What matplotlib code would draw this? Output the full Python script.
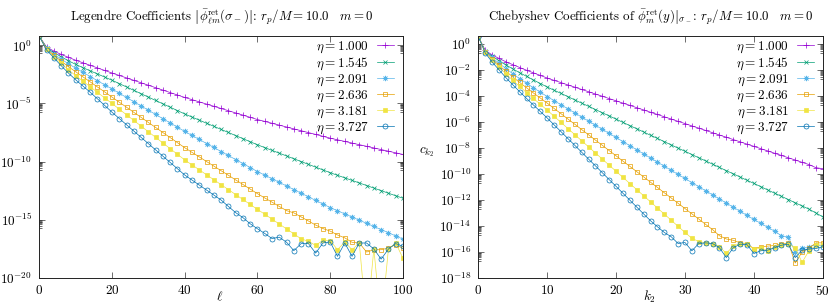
import numpy as np
import matplotlib
matplotlib.use("Agg")
import matplotlib.pyplot as plt
from matplotlib.ticker import FixedLocator, LogFormatterSciNotation, NullFormatter

plt.rcParams['font.family'] = ['cmr10', 'DejaVu Serif']
plt.rcParams['mathtext.fontset'] = 'cm'
plt.rcParams['axes.unicode_minus'] = False
plt.rcParams['axes.formatter.use_mathtext'] = True

# ---------------- data ----------------
etas = ["1.000", "1.545", "2.091", "2.636", "3.181", "3.727"]
colors = ["#9400d3", "#009e73", "#56b4e9", "#e69f00", "#f0e442", "#0072b2"]

ell = list(range(0, 101, 2))
k2 = list(range(0, 51))

# log10 of |phi_lm| (Legendre), ell = 0,2,...,100
leg_eta1 = [0.78, -0.15, -0.49, -0.78, -1.03, -1.28, -1.5, -1.72, -1.94, -2.16, -2.38,
            -2.59, -2.80, -3.01, -3.22, -3.43, -3.64, -3.85, -4.06, -4.27, -4.48,
            -4.67, -4.86, -5.05, -5.24, -5.43, -5.62, -5.81, -6.0, -6.19, -6.38,
            -6.54, -6.70, -6.86, -7.02, -7.18, -7.34, -7.5, -7.66, -7.82, -7.98,
            -8.12, -8.26, -8.40, -8.54, -8.68, -8.82, -8.96, -9.10, -9.24, -9.38]
leg_eta2 = [0.78, -0.2, -0.62, -0.98, -1.32, -1.64, -1.92, -2.19, -2.46, -2.73, -3.0,
            -3.29, -3.58, -3.87, -4.16, -4.45, -4.74, -5.03, -5.32, -5.61, -5.9,
            -6.17, -6.43, -6.70, -6.96, -7.23, -7.49, -7.76, -8.02, -8.29, -8.55,
            -8.79, -9.03, -9.27, -9.51, -9.75, -9.99, -10.23, -10.47, -10.71, -10.95,
            -11.17, -11.39, -11.61, -11.83, -12.05, -12.27, -12.49, -12.71, -12.93, -13.14]
leg_eta3 = [0.78, -0.25, -0.75, -1.18, -1.58, -1.96, -2.32, -2.68, -3.04, -3.40, -3.75,
            -4.12, -4.48, -4.85, -5.21, -5.58, -5.94, -6.31, -6.67, -7.04, -7.4,
            -7.75, -8.09, -8.44, -8.78, -9.13, -9.47, -9.82, -10.16, -10.51, -10.85,
            -11.16, -11.47, -11.78, -12.09, -12.4, -12.71, -13.02, -13.33, -13.64, -13.95,
            -14.22, -14.49, -14.76, -15.03, -15.30, -15.57, -15.84, -16.11, -16.38, -16.66]
leg_eta4 = [0.78, -0.3, -0.85, -1.35, -1.83, -2.27, -2.71, -3.14, -3.58, -4.01, -4.45,
            -4.89, -5.32, -5.76, -6.19, -6.63, -7.06, -7.50, -7.93, -8.37, -8.8,
            -9.2, -9.59, -9.99, -10.38, -10.78, -11.17, -11.57, -11.96, -12.36, -12.75,
            -13.12, -13.48, -13.85, -14.21, -14.4, -14.75, -15.1, -15.45, -15.75, -15.97,
            -16.3, -16.55, -16.93, -16.99, -17.77, -17.57, -17.57, -17.42, -17.13, -17.45]
leg_eta5 = [0.78, -0.35, -0.98, -1.55, -2.1, -2.6, -3.08, -3.56, -4.04, -4.52, -5.0,
            -5.49, -5.97, -6.46, -6.94, -7.43, -7.91, -8.40, -8.88, -9.37, -9.85,
            -10.28, -10.7, -11.13, -11.55, -11.98, -12.4, -12.83, -13.25, -13.68, -14.1,
            -14.52, -14.94, -15.36, -15.78, -16.2, -16.64, -16.84, -17.2, -16.75, -16.78,
            -17.57, -16.9, -17.57, -16.99, -24.0, -17.5, -24.0, -17.5, -17.0, -18.3]
leg_eta6 = [0.78, -0.4, -1.07, -1.74, -2.38, -2.96, -3.5, -4.03, -4.6, -5.17, -5.75,
            -6.29, -6.83, -7.37, -7.91, -8.45, -8.99, -9.53, -10.07, -10.61, -11.15,
            -11.58, -12.01, -12.44, -12.87, -13.3, -13.85, -14.38, -14.81, -15.34, -15.77,
            -16.17, -16.61, -16.49, -16.93, -17.65, -17.04, -17.04, -17.86, -16.99, -16.90,
            -18.14, -16.99, -18.14, -16.99, -16.99, -17.51, -18.38, -17.51, -17.04, -17.28]

# log10 of Chebyshev coefficients c_k2, k2 = 0..50
cheb_eta1 = [0.56, -0.5, -0.85, -1.12, -1.38, -1.6, -1.82, -2.03, -2.23, -2.43, -2.63,
             -2.81, -2.98, -3.16, -3.33, -3.51, -3.68, -3.86, -4.03, -4.21, -4.38,
             -4.56, -4.73, -4.91, -5.08, -5.26, -5.43, -5.61, -5.78, -5.96, -6.13,
             -6.31, -6.48, -6.66, -6.83, -7.01, -7.18, -7.36, -7.53, -7.71, -7.88,
             -8.06, -8.23, -8.41, -8.58, -8.76, -8.93, -9.11, -9.28, -9.52, -9.6]
cheb_eta2 = [0.56, -0.55, -0.95, -1.3, -1.62, -1.93, -2.22, -2.5, -2.78, -3.05, -3.32,
             -3.57, -3.81, -4.06, -4.31, -4.56, -4.80, -5.05, -5.30, -5.54, -5.79,
             -6.04, -6.29, -6.53, -6.78, -7.03, -7.27, -7.52, -7.77, -8.02, -8.26,
             -8.51, -8.76, -9.00, -9.25, -9.50, -9.75, -9.99, -10.24, -10.49, -10.73,
             -10.98, -11.23, -11.48, -11.72, -11.97, -12.22, -12.46, -12.71, -13.0, -13.3]
cheb_eta3 = [0.56, -0.6, -1.05, -1.5, -1.9, -2.3, -2.68, -3.03, -3.38, -3.72, -4.05,
             -4.37, -4.68, -5.0, -5.31, -5.63, -5.94, -6.26, -6.57, -6.89, -7.2,
             -7.52, -7.83, -8.15, -8.46, -8.78, -9.09, -9.41, -9.72, -10.04, -10.35,
             -10.67, -10.98, -11.30, -11.61, -11.93, -12.24, -12.56, -12.87, -13.19, -13.5,
             -13.8, -14.1, -14.4, -14.75, -14.85, -16.0, -15.7, -15.6, -15.45, -15.5]
cheb_eta4 = [0.56, -0.62, -1.15, -1.65, -2.1, -2.55, -2.97, -3.38, -3.78, -4.17, -4.56,
             -4.97, -5.37, -5.78, -6.18, -6.59, -6.99, -7.40, -7.80, -8.21, -8.61,
             -9.02, -9.42, -9.83, -10.23, -10.64, -11.04, -11.45, -11.85, -12.26, -12.66,
             -13.07, -13.47, -13.88, -14.28, -14.75, -15.0, -15.1, -15.3, -15.35, -15.75,
             -15.6, -15.55, -15.5, -15.4, -15.3, -16.85, -16.0, -15.7, -15.3, -15.3]
cheb_eta5 = [0.56, -0.65, -1.25, -1.8, -2.3, -2.8, -3.28, -3.75, -4.2, -4.65, -5.1,
             -5.57, -6.04, -6.51, -6.98, -7.45, -7.92, -8.39, -8.86, -9.33, -9.8,
             -10.27, -10.74, -11.21, -11.68, -12.15, -12.62, -13.09, -13.56, -14.03, -14.5,
             -14.95, -15.2, -15.3, -15.35, -15.6, -16.1, -15.55, -15.35, -15.4, -15.8,
             -15.7, -15.9, -15.6, -15.5, -15.35, -15.7, -16.8, -15.9, -15.5, -15.45]
cheb_eta6 = [0.56, -0.7, -1.4, -2.0, -2.6, -3.15, -3.68, -4.2, -4.7, -5.2, -5.7,
             -6.23, -6.75, -7.28, -7.8, -8.33, -8.86, -9.38, -9.91, -10.44, -10.96,
             -11.49, -12.02, -12.55, -13.08, -13.6, -14.06, -14.5, -14.83, -15.35, -15.27,
             -15.91, -15.35, -15.30, -15.35, -15.68, -16.43, -15.68, -15.40, -15.43, -16.12,
             -15.91, -15.86, -15.68, -15.48, -15.40, -16.43, -15.86, -15.78, -15.73, -15.60]

leg_series = [leg_eta1, leg_eta2, leg_eta3, leg_eta4, leg_eta5, leg_eta6]
cheb_series = [cheb_eta1, cheb_eta2, cheb_eta3, cheb_eta4, cheb_eta5, cheb_eta6]

# ---------------- styles ----------------
markers = ["+", "x", (8, 2, 0), "s", "s", "o"]
fills = ["full", "full", "full", "none", "full", "none"]
msizes = [3.8, 3.0, 3.8, 3.2, 3.2, 3.6]

fig = plt.figure(figsize=(8.3, 3.06), dpi=100)
axL = fig.add_axes([0.0473, 0.0915, 0.4382, 0.7908])
axR = fig.add_axes([0.5763, 0.0915, 0.4150, 0.7908])


def draw(ax, x, series):
    for s, c, m, f, ms, e in zip(series, colors, markers, fills, msizes, etas):
        ax.plot(x, 10.0 ** np.array(s), color=c, lw=0.5, marker=m, ms=ms,
                fillstyle=f, mew=0.5, label=r"$\eta = %s$" % e)


draw(axL, ell, leg_series)
draw(axR, k2, cheb_series)

axL.set_yscale("log")
axR.set_yscale("log")
axL.set_xlim(0, 100)
axR.set_xlim(0, 50)
axL.set_ylim(1e-20, 10 ** 0.8)
axR.set_ylim(1e-18, 10 ** 0.6)

axL.xaxis.set_major_locator(FixedLocator([0, 20, 40, 60, 80, 100]))
axR.xaxis.set_major_locator(FixedLocator([0, 10, 20, 30, 40, 50]))

majL = [10.0 ** n for n in range(0, -21, -5)]
majR = [10.0 ** n for n in range(0, -19, -2)]
axL.yaxis.set_major_locator(FixedLocator(majL))
axR.yaxis.set_major_locator(FixedLocator(majR))
axL.yaxis.set_minor_locator(FixedLocator([k * m / 10 for m in majL for k in range(2, 10)]))
axR.yaxis.set_minor_locator(FixedLocator([k * m / 10 for m in majR for k in range(2, 10)]))
for ax in (axL, axR):
    ax.yaxis.set_major_formatter(LogFormatterSciNotation())
    ax.yaxis.set_minor_formatter(NullFormatter())
    ax.tick_params(which="both", direction="in", top=True, right=True,
                   labelsize=9.5, width=0.5, color="#333333")
    ax.tick_params(which="major", length=4, pad=4)
    ax.tick_params(which="minor", length=2)
    for sp in ax.spines.values():
        sp.set_linewidth(0.7)
        sp.set_color("#222222")
    ax.tick_params(axis="y", pad=5)
    ax.legend(loc="upper right", bbox_to_anchor=(0.975, 0.985), markerfirst=False,
              frameon=False, fontsize=9.5, handlelength=1.3, handletextpad=0.6,
              labelspacing=0.05, borderaxespad=0.0, borderpad=0.0)

axL.set_title(r"Legendre Coefficients $\left|\bar{\phi}^{\rm ret}_{\ell m}(\sigma_-)\right|$: $r_p/M = 10.0\quad m = 0$",
              fontsize=9.3, pad=11)
axR.set_title(r"Chebyshev Coefficients of $\left.\bar{\phi}^{\rm ret}_{m}(y)\right|_{\sigma_-}$: $r_p/M = 10.0\quad m = 0$",
              fontsize=9.3, pad=11)

axL.set_xlabel(r"$\ell$", fontsize=9.5)
axL.xaxis.set_label_coords(0.497, -0.05)
axR.set_xlabel(r"$k_2$", fontsize=9.5)
axR.xaxis.set_label_coords(0.496, -0.045)
axR.set_ylabel(r"$c_{k_2}$", fontsize=9.5, rotation=0)
axR.yaxis.set_label_coords(-0.15, 0.49)

fig.savefig("out.png", dpi=100)
